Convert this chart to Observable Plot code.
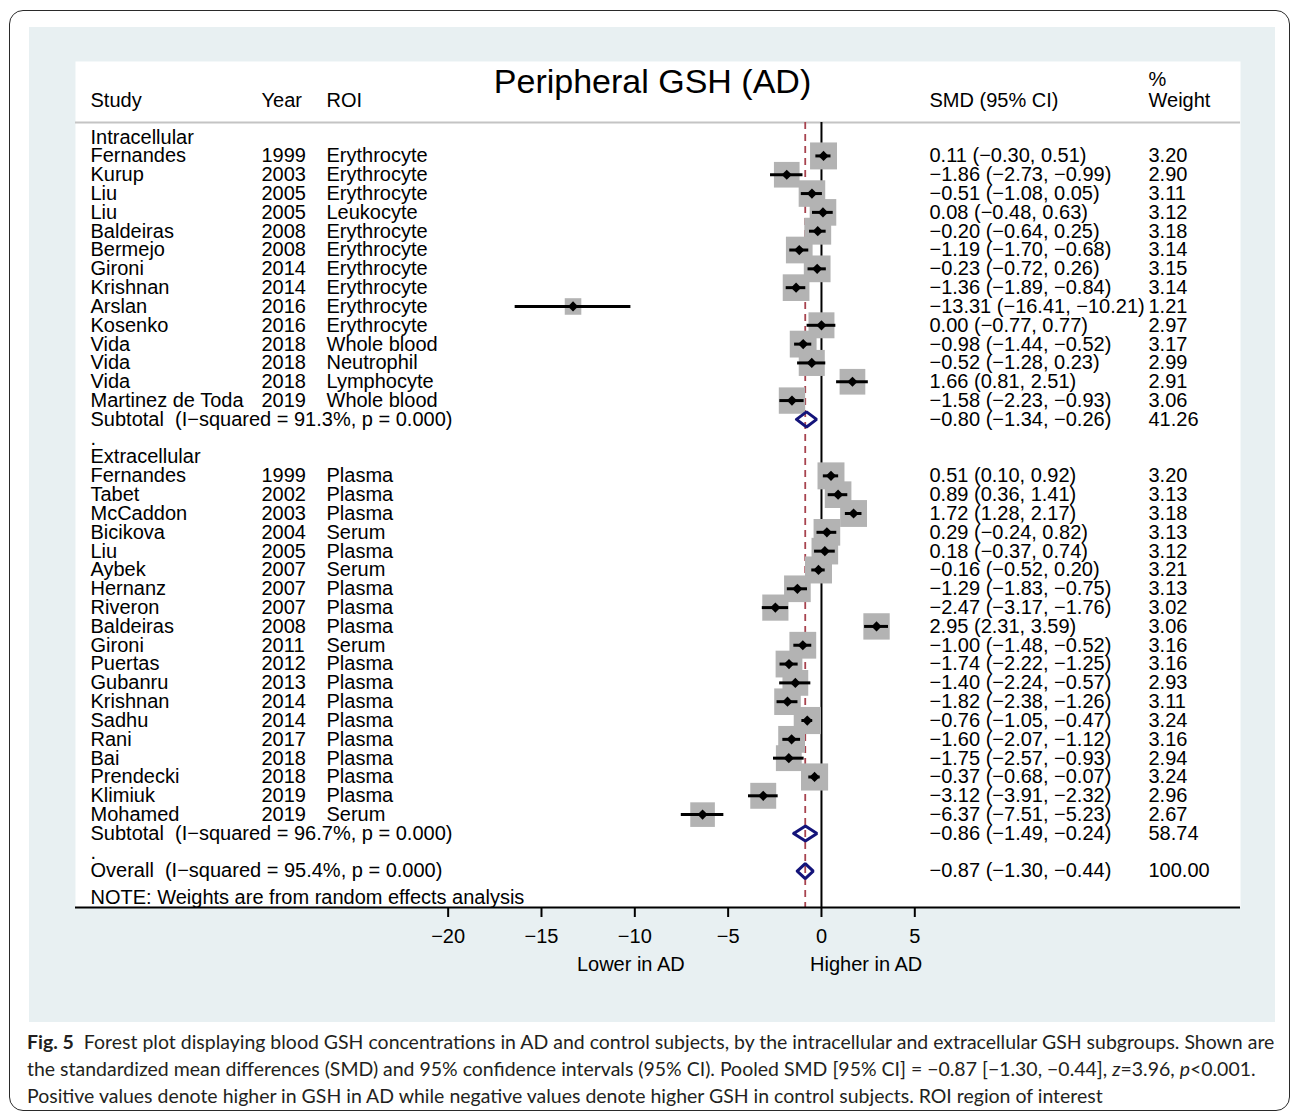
<!DOCTYPE html>
<html>
<head>
<meta charset="utf-8">
<script src="https://cdn.jsdelivr.net/npm/d3@7"></script>
<script src="https://cdn.jsdelivr.net/npm/@observablehq/plot@0.6"></script>
<style>
  html, body { margin: 0; padding: 0; background: #fff; }
  #page { position: relative; width: 1295px; height: 1119px; overflow: hidden; }
  #border { position: absolute; left: 9px; top: 10px; width: 1279px; height: 1099px; border: 1.5px solid #2a2a2a; border-radius: 14px; }
  #panel { position: absolute; left: 29px; top: 27px; width: 1246px; height: 995px; background: #e8f0f2; }
  #chart { position: absolute; left: 0; top: 0; }
  #caption { position: absolute; left: 27px; top: 1028px; font-family: Lato, "Open Sans", sans-serif; font-size: 18px; line-height: 27px; color: #231f20; white-space: nowrap; }
  #caption .ln { display: block; }
  #caption .ln span.inner { display: inline-block; }
</style>
</head>
<body>
<div id="page">
  <div id="border"></div>
  <div id="panel"></div>
  <div id="chart"></div>
  <div id="caption">
    <div class="ln"><span class="inner"><b>Fig. 5</b>&nbsp; Forest plot displaying blood GSH concentrations in AD and control subjects, by the intracellular and extracellular GSH subgroups. Shown are</span></div>
    <div class="ln"><span class="inner">the standardized mean differences (SMD) and 95% confidence intervals (95% CI). Pooled SMD [95% CI] = −0.87 [−1.30, −0.44], <i>z</i>=3.96, <i>p</i>&lt;0.001.</span></div>
    <div class="ln"><span class="inner">Positive values denote higher in GSH in AD while negative values denote higher GSH in control subjects. ROI region of interest</span></div>
  </div>
</div>
<script>
// ---------------- DATA ----------------
const chartTitle = "Peripheral GSH (AD)";
const headerLabels = ["Study", "Year", "ROI", "SMD (95% CI)", "Weight"];
const weightHeaderTop = "%";
const groupNames = ["Intracellular", "Extracellular"];

const intraStudy = ["Fernandes", "Kurup", "Liu", "Liu", "Baldeiras", "Bermejo", "Gironi", "Krishnan", "Arslan", "Kosenko", "Vida", "Vida", "Vida", "Martinez de Toda"];
const intraYear = [1999, 2003, 2005, 2005, 2008, 2008, 2014, 2014, 2016, 2016, 2018, 2018, 2018, 2019];
const intraROI = ["Erythrocyte", "Erythrocyte", "Erythrocyte", "Leukocyte", "Erythrocyte", "Erythrocyte", "Erythrocyte", "Erythrocyte", "Erythrocyte", "Erythrocyte", "Whole blood", "Neutrophil", "Lymphocyte", "Whole blood"];
const intraSMD = [0.11, -1.86, -0.51, 0.08, -0.20, -1.19, -0.23, -1.36, -13.31, 0.00, -0.98, -0.52, 1.66, -1.58];
const intraLo = [-0.30, -2.73, -1.08, -0.48, -0.64, -1.70, -0.72, -1.89, -16.41, -0.77, -1.44, -1.28, 0.81, -2.23];
const intraHi = [0.51, -0.99, 0.05, 0.63, 0.25, -0.68, 0.26, -0.84, -10.21, 0.77, -0.52, 0.23, 2.51, -0.93];
const intraWeight = [3.20, 2.90, 3.11, 3.12, 3.18, 3.14, 3.15, 3.14, 1.21, 2.97, 3.17, 2.99, 2.91, 3.06];

const extraStudy = ["Fernandes", "Tabet", "McCaddon", "Bicikova", "Liu", "Aybek", "Hernanz", "Riveron", "Baldeiras", "Gironi", "Puertas", "Gubanru", "Krishnan", "Sadhu", "Rani", "Bai", "Prendecki", "Klimiuk", "Mohamed"];
const extraYear = [1999, 2002, 2003, 2004, 2005, 2007, 2007, 2007, 2008, 2011, 2012, 2013, 2014, 2014, 2017, 2018, 2018, 2019, 2019];
const extraROI = ["Plasma", "Plasma", "Plasma", "Serum", "Plasma", "Serum", "Plasma", "Plasma", "Plasma", "Serum", "Plasma", "Plasma", "Plasma", "Plasma", "Plasma", "Plasma", "Plasma", "Plasma", "Serum"];
const extraSMD = [0.51, 0.89, 1.72, 0.29, 0.18, -0.16, -1.29, -2.47, 2.95, -1.00, -1.74, -1.40, -1.82, -0.76, -1.60, -1.75, -0.37, -3.12, -6.37];
const extraLo = [0.10, 0.36, 1.28, -0.24, -0.37, -0.52, -1.83, -3.17, 2.31, -1.48, -2.22, -2.24, -2.38, -1.05, -2.07, -2.57, -0.68, -3.91, -7.51];
const extraHi = [0.92, 1.41, 2.17, 0.82, 0.74, 0.20, -0.75, -1.76, 3.59, -0.52, -1.25, -0.57, -1.26, -0.47, -1.12, -0.93, -0.07, -2.32, -5.23];
const extraWeight = [3.20, 3.13, 3.18, 3.13, 3.12, 3.21, 3.13, 3.02, 3.06, 3.16, 3.16, 2.93, 3.11, 3.24, 3.16, 2.94, 3.24, 2.96, 2.67];

const subtotalISq = [91.3, 96.7];
const subtotalP = ["0.000", "0.000"];
const subtotalSMD = [-0.80, -0.86];
const subtotalLo = [-1.34, -1.49];
const subtotalHi = [-0.26, -0.24];
const subtotalWeight = [41.26, 58.74];

const overallISq = 95.4;
const overallP = "0.000";
const overallSMD = -0.87;
const overallLo = -1.30;
const overallHi = -0.44;
const overallWeight = 100.00;

const noteText = "NOTE: Weights are from random effects analysis";
const xTicks = [-20, -15, -10, -5, 0, 5];
const favourLabels = ["Lower in AD", "Higher in AD"];

// ---------------- BUILD ROWS ----------------
const minus = "\u2212";
const fmt = v => (v < 0 ? minus : "") + Math.abs(v).toFixed(2);
const ciText = (s, l, h) => `${fmt(s)} (${fmt(l)}, ${fmt(h)})`;

const groups = [
  {study: intraStudy, year: intraYear, roi: intraROI, smd: intraSMD, lo: intraLo, hi: intraHi, w: intraWeight},
  {study: extraStudy, year: extraYear, roi: extraROI, smd: extraSMD, lo: extraLo, hi: extraHi, w: extraWeight}
];

const studies = [], groupLabelRows = [], pooled = [], dotRows = [];
let r = 0;
groups.forEach((g, gi) => {
  groupLabelRows.push({row: r, text: groupNames[gi]}); r++;
  g.study.forEach((s, i) => {
    studies.push({row: r, study: s, year: String(g.year[i]), roi: g.roi[i], smd: g.smd[i], lo: g.lo[i], hi: g.hi[i], w: g.w[i],
      ci: ciText(g.smd[i], g.lo[i], g.hi[i]), wt: g.w[i].toFixed(2)});
    r++;
  });
  pooled.push({row: r, id: "sub" + gi, label: `Subtotal\u00a0\u00a0(I${minus}squared = ${subtotalISq[gi].toFixed(1)}%, p = ${subtotalP[gi]})`,
    smd: subtotalSMD[gi], lo: subtotalLo[gi], hi: subtotalHi[gi], ci: ciText(subtotalSMD[gi], subtotalLo[gi], subtotalHi[gi]), wt: subtotalWeight[gi].toFixed(2)});
  r++;
  dotRows.push({row: r, text: "."}); r++;
});
pooled.push({row: r, id: "overall", label: `Overall\u00a0\u00a0(I${minus}squared = ${overallISq.toFixed(1)}%, p = ${overallP})`,
  smd: overallSMD, lo: overallLo, hi: overallHi, ci: ciText(overallSMD, overallLo, overallHi), wt: overallWeight.toFixed(2)});

// ---------------- LAYOUT (styles) ----------------
const W = 1295, H = 1000;
const mTop = 61, mLeft = 75, mRight = 55, mBottom = 93;
const rowStart = 136.6, rowStep = 18.82;     // pixel centre of row 0 and row spacing
const headerRow = -0.77;                       // grey header rule, in row units
const bottomRow = (H - mBottom - rowStart) / rowStep; // frame bottom in row units
const diamondHalf = 0.4;                       // pooled diamond half-height, row units
const col = {study: 15, year: 186, roi: 251, ci: 854, wt: 1073}; // dx from frame left
const FS = 20;
const navy = "#14147a", maroon = "#a8434f", boxGray = "#b3b3b3";

const diamonds = pooled.flatMap(p => [
  {id: p.id, x: p.lo, y: p.row},
  {id: p.id, x: p.smd, y: p.row - diamondHalf},
  {id: p.id, x: p.hi, y: p.row},
  {id: p.id, x: p.smd, y: p.row + diamondHalf},
  {id: p.id, x: p.lo, y: p.row}
]);

const allText = [...groupLabelRows.map(d => ({row: d.row, text: d.text})), ...dotRows, ...studies.map(d => ({row: d.row, text: d.study})), ...pooled.map(d => ({row: d.row, text: d.label}))];
const textOpts = {frameAnchor: "left", textAnchor: "start", lineAnchor: "middle", fontSize: FS, fill: "black"};

const chart = Plot.plot({
  width: W, height: H,
  marginTop: mTop, marginLeft: mLeft, marginRight: mRight, marginBottom: mBottom,
  style: {fontFamily: "'Liberation Sans', Arial, Helvetica, sans-serif", fontSize: "20px", color: "black", background: "transparent", overflow: "visible"},
  x: {domain: [-20, 5], range: [447.66, 914.3]},
  y: {domain: [0, 39], range: [rowStart, rowStart + 39 * rowStep], axis: null},
  r: {type: "sqrt", domain: [0, 4], range: [0, 17]},
  marks: [
    Plot.frame({fill: "white", stroke: null}),
    Plot.ruleY([headerRow], {stroke: "#c4c4c4", strokeWidth: 2}),
    Plot.ruleX([overallSMD], {y1: headerRow, y2: bottomRow, stroke: maroon, strokeWidth: 1.8, strokeDasharray: "7,5"}),
    Plot.ruleX([0], {y1: headerRow, y2: bottomRow, stroke: "black", strokeWidth: 2}),
    Plot.dot(studies, {x: "smd", y: "row", r: "w", symbol: "square", fill: boxGray, stroke: null}),
    Plot.ruleY(studies, {y: "row", x1: "lo", x2: "hi", stroke: "black", strokeWidth: 3}),
    Plot.dot(studies, {x: "smd", y: "row", r: 4.6, symbol: "diamond2", fill: "black", stroke: null}),
    Plot.line(diamonds, {x: "x", y: "y", z: "id", stroke: navy, strokeWidth: 3, strokeLinejoin: "miter"}),
    // left table
    Plot.text(allText, {...textOpts, y: "row", text: "text", dx: col.study}),
    Plot.text(studies, {...textOpts, y: "row", text: "year", dx: col.year}),
    Plot.text(studies, {...textOpts, y: "row", text: "roi", dx: col.roi}),
    // right table
    Plot.text([...studies, ...pooled], {...textOpts, y: "row", text: "ci", dx: col.ci}),
    Plot.text([...studies, ...pooled], {...textOpts, y: "row", text: "wt", dx: col.wt}),
    // headers
    Plot.text([chartTitle], {frameAnchor: "top", text: d => d, dx: -5.5, dy: 21, lineAnchor: "middle", fontSize: 34, fill: "black"}),
    ...headerLabels.map((h, i) => Plot.text([h], {frameAnchor: "top-left", text: d => d, dx: [col.study, col.year, col.roi, col.ci, col.wt][i], dy: 38.8, textAnchor: "start", lineAnchor: "middle", fontSize: FS, fill: "black"})),
    Plot.text([weightHeaderTop], {frameAnchor: "top-left", text: d => d, dx: col.wt, dy: 18.4, textAnchor: "start", lineAnchor: "middle", fontSize: FS, fill: "black"}),
    // note
    Plot.text([noteText], {frameAnchor: "bottom-left", text: d => d, dx: col.study, dy: -10.1, textAnchor: "start", lineAnchor: "middle", fontSize: FS, fill: "black"}),
    // axis
    Plot.ruleY([bottomRow], {stroke: "black", strokeWidth: 2}),
    Plot.axisX({ticks: xTicks, tickFormat: d => d < 0 ? minus + (-d) : String(d), tickSize: 10, tickPadding: 11, fontSize: FS, strokeWidth: 2, label: null}),
    Plot.text([favourLabels[0]], {
      x: () => d3.mean([xTicks[0], 0]),
      frameAnchor: "bottom", text: d => d, dx: -4, dy: 57.3, lineAnchor: "middle", textAnchor: "middle", fontSize: FS, fill: "black"}),
    Plot.text([favourLabels[1]], {
      x: () => d3.mean([0, xTicks[xTicks.length - 1]]),
      frameAnchor: "bottom", text: d => d, dx: -2, dy: 57.3, lineAnchor: "middle", textAnchor: "middle", fontSize: FS, fill: "black"})
  ]
});
document.getElementById("chart").appendChild(chart);

// fit caption width to the panel
const lines = document.querySelectorAll("#caption .inner");
const target = 1248;
const w0 = lines[0].getBoundingClientRect().width;
const fs = Math.max(15, Math.min(21, 18 * target / w0));
document.getElementById("caption").style.fontSize = fs + "px";
</script>
</body>
</html>
